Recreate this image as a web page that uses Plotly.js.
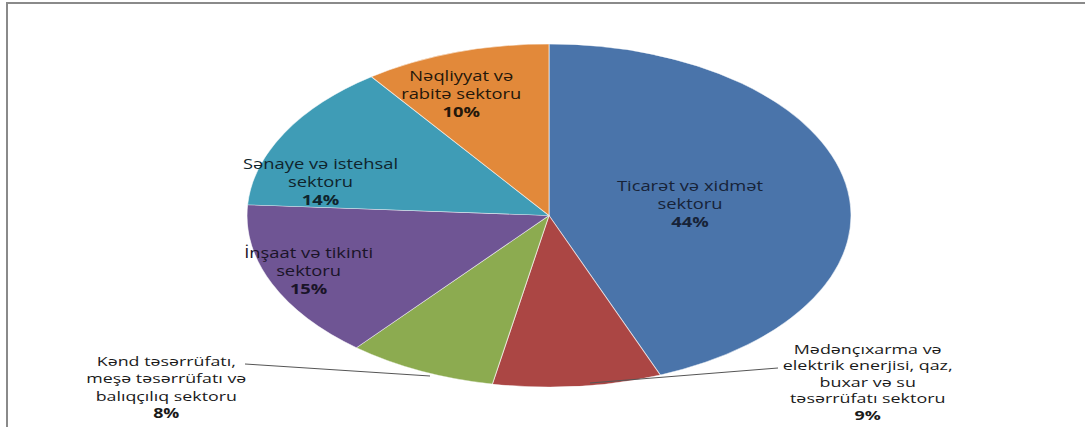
<!DOCTYPE html>
<html>
<head>
<meta charset="utf-8">
<script src="https://cdn.plot.ly/plotly-3.0.1.min.js"></script>
<style>
html,body{margin:0;padding:0;background:#fff;}
#chart{width:1085px;height:427px;}
</style>
</head>
<body>
<div id="chart"></div>
<script>
// ---- data ----
var sectors = [
  "Ticarət və xidmət sektoru",
  "Mədənçıxarma və elektrik enerjisi, qaz, buxar və su təsərrüfatı sektoru",
  "Kənd təsərrüfatı, meşə təsərrüfatı və balıqçılıq sektoru",
  "İnşaat və tikinti sektoru",
  "Sənaye və istehsal sektoru",
  "Nəqliyyat və rabitə sektoru"
];
var shares = [44, 9, 8, 15, 14, 10];
var labelLines = [
  ["Ticarət və xidmət", "sektoru"],
  ["Mədənçıxarma və", "elektrik enerjisi, qaz,", "buxar və su", "təsərrüfatı sektoru"],
  ["Kənd təsərrüfatı,", "meşə təsərrüfatı və", "balıqçılıq sektoru"],
  ["İnşaat və tikinti", "sektoru"],
  ["Sənaye və istehsal", "sektoru"],
  ["Nəqliyyat və", "rabitə sektoru"]
];

// ---- styling / layout ----
var W = 1085, H = 427;
var sliceColors = ["#4a74aa", "#ab4644", "#8cab50", "#6f5594", "#3f9cb6", "#e2893a"];
var cx = 549, cyTop = 44, cyBot = 387, rx = 302;
var ry = (cyBot - cyTop) / 2;
// label centre (px), text colour, font size, horizontal stretch
var labelPos = [
  [690, 203, "#172338", 13.8, 1.33],
  [868, 382, "#1a1a1a", 12.6, 1.42],
  [166, 387, "#1a1a1a", 13.4, 1.33],
  [308, 270, "#1a1428", 13.8, 1.33],
  [320, 181, "#0f242c", 13.8, 1.33],
  [461, 93, "#24170a", 13.8, 1.33]
];
var leaders = [null, [[778, 368], [590, 383]], [[245, 364], [430, 376]], null, null, null];

function px(x){ return x / W; }
function py(y){ return 1 - y / H; }

var annotations = sectors.map(function(s, i){
  var txt = labelLines[i].join("<br>") + "<br><b>" + shares[i] + "%</b>";
  return {
    xref: "paper", yref: "paper",
    x: px(labelPos[i][0]), y: py(labelPos[i][1]),
    xanchor: "center", yanchor: "middle",
    text: txt, showarrow: false, align: "center",
    font: {family: "Open Sans, sans-serif", size: labelPos[i][3], color: labelPos[i][2]}
  };
});

var shapes = [];
leaders.forEach(function(l){
  if (!l) return;
  shapes.push({type: "line", xref: "paper", yref: "paper",
    x0: px(l[0][0]), y0: py(l[0][1]), x1: px(l[1][0]), y1: py(l[1][1]),
    line: {color: "#555", width: 1}});
});
// outer frame (top and left edges)
shapes.push({type: "rect", xref: "paper", yref: "paper",
  x0: px(7), x1: 1.02, y0: -0.02, y1: py(3),
  line: {color: "#8a8a8a", width: 2}, fillcolor: "rgba(0,0,0,0)"});

var trace = {
  type: "pie",
  labels: sectors,
  values: shares,
  sort: false,
  direction: "clockwise",
  rotation: 0,
  textinfo: "none",
  hoverinfo: "label+percent",
  marker: {colors: sliceColors, line: {color: "rgba(255,255,255,0.6)", width: 0.6}},
  domain: {x: [px(cx - ry), px(cx + ry)], y: [1 - cyBot / H, 1 - cyTop / H]},
  showlegend: false
};

var layout = {
  width: W, height: H,
  margin: {l: 0, r: 0, t: 0, b: 0},
  paper_bgcolor: "#ffffff",
  plot_bgcolor: "#ffffff",
  showlegend: false,
  annotations: annotations,
  shapes: shapes
};

Plotly.newPlot("chart", [trace], layout, {displayModeBar: false, staticPlot: true}).then(function(){
  // stretch the pie horizontally into the ellipse of the original picture
  var k = rx / ry;
  var g = document.querySelector("#chart .pielayer");
  if (g) g.setAttribute("transform", "translate(" + cx + ",0) scale(" + k + ",1) translate(" + (-cx) + ",0)");
  // the original picture's text is stretched horizontally too
  var anns = document.querySelectorAll("#chart .annotation");
  anns.forEach(function(a){
    var idx = +a.getAttribute("data-index");
    var x0 = labelPos[idx][0], s = labelPos[idx][4];
    a.setAttribute("transform", "translate(" + x0 + ",0) scale(" + s + ",1) translate(" + (-x0) + ",0)");
  });
});
</script>
</body>
</html>
